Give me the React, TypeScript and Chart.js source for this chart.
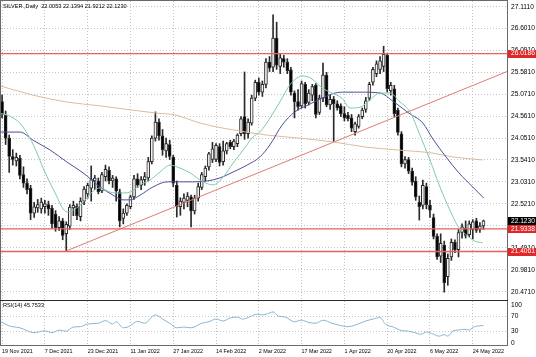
import React, { useEffect, useRef } from "react";
import { Chart, registerables } from "chart.js";

Chart.register(...registerables);

// ---- data ----
const titleText = "SILVER.,Daily  22.0053 22.1394 21.9212 22.1230";
const rsiTitle = "RSI(14) 45.7533";

const dateIdx = [0, 12, 24, 36, 48, 60, 72, 84, 96, 108, 120, 132];
const dateLabels = [
  "19 Nov 2021", "7 Dec 2021", "23 Dec 2021", "11 Jan 2022", "27 Jan 2022", "14 Feb 2022",
  "2 Mar 2022", "17 Mar 2022", "1 Apr 2022", "20 Apr 2022", "6 May 2022", "24 May 2022",
];
const priceTicks = [20.471, 20.981, 21.491, 22.011, 22.521, 23.031, 23.541, 24.051, 24.561, 25.071, 25.581, 26.091, 26.601, 27.111];
const rsiTicks = [0, 30, 70, 100];

const opens = [
  24.90, 24.58, 24.05, 23.62, 23.52, 23.58, 23.20, 23.00, 22.88, 22.30,
  22.42, 22.40, 22.45, 22.50, 22.42, 22.28, 21.96, 22.12, 21.82, 22.00,
  22.42, 22.46, 22.22, 22.58, 22.75, 22.88, 23.05, 23.05, 22.82, 23.15,
  23.30, 23.05, 23.10, 22.80, 22.18, 22.30, 22.45, 22.68, 23.10, 22.95,
  23.08, 23.12, 23.50, 24.05, 24.42, 24.10, 23.75, 23.90, 23.60, 22.95,
  22.45, 22.55, 22.60, 22.68, 22.35, 22.65, 22.90, 23.15, 23.38, 23.55,
  23.55, 23.85, 23.50, 23.75, 23.95, 23.85, 23.92, 24.15, 24.55, 24.15,
  24.40, 24.98, 25.35, 25.12, 25.30, 25.82, 25.70, 26.38, 25.72, 25.90,
  25.82, 25.64, 25.10, 24.90, 24.80, 25.30, 24.88, 25.05, 25.28, 24.65,
  24.98, 25.52, 24.82, 24.95, 24.85, 24.80, 24.62, 24.58, 24.52, 24.20,
  24.32, 24.55, 24.72, 24.98, 25.35, 25.55, 25.65, 25.72, 25.98, 25.15,
  25.20, 24.70, 24.15, 23.45, 23.55, 23.28, 23.05, 22.55, 22.48, 22.92,
  22.49, 22.20, 21.76, 21.30, 21.55, 20.82, 21.28, 21.62, 21.45, 21.85,
  21.95, 21.80, 21.92, 22.12, 21.92, 22.0053,
];
const highs = [
  25.05, 24.68, 24.12, 23.78, 23.70, 23.65, 23.38, 23.10, 22.95, 22.55,
  22.62, 22.65, 22.60, 22.58, 22.48, 22.36, 22.22, 22.18, 22.10, 22.50,
  22.58, 22.52, 22.66, 22.92, 23.00, 23.40, 23.18, 23.12, 23.25, 23.42,
  23.38, 23.18, 23.15, 22.86, 22.40, 22.52, 22.72, 23.18, 23.22, 23.15,
  23.25, 23.60, 24.10, 24.66, 24.50, 24.25, 24.05, 24.00, 23.65, 23.05,
  22.66, 22.75, 22.78, 22.72, 22.72, 23.00, 23.25, 23.40, 23.72, 23.95,
  23.92, 23.92, 23.98, 23.95, 24.00, 24.02, 24.15, 24.55, 25.59, 24.50,
  25.05, 25.40, 25.45, 25.38, 25.90, 25.95, 26.92, 26.75, 26.00, 25.98,
  25.90, 25.70, 25.15, 25.18, 25.38, 25.35, 25.18, 25.30, 25.32, 25.05,
  25.80, 25.58, 25.05, 25.02, 24.92, 24.85, 24.78, 24.65, 24.60, 24.42,
  24.60, 24.75, 25.00, 25.35, 25.70, 25.85, 25.95, 26.19, 26.02, 25.35,
  25.28, 24.75, 24.20, 23.62, 23.60, 23.35, 23.15, 22.70, 23.07, 23.00,
  22.60, 22.28, 21.82, 21.82, 21.65, 21.35, 21.70, 21.68, 21.92, 22.05,
  22.12, 22.12, 22.15, 22.18, 22.08, 22.1394,
];
const lows = [
  24.52, 23.90, 23.25, 23.42, 23.40, 23.10, 22.90, 22.75, 22.15, 22.20,
  22.32, 22.30, 22.30, 22.25, 21.95, 21.88, 21.90, 21.68, 21.42, 21.92,
  22.24, 22.15, 22.12, 22.50, 22.65, 22.58, 22.85, 22.75, 22.78, 23.05,
  22.98, 22.90, 22.58, 21.98, 22.05, 22.25, 22.40, 22.62, 22.90, 22.85,
  22.95, 23.05, 23.45, 23.98, 24.00, 23.65, 23.60, 23.55, 22.92, 22.21,
  22.25, 22.40, 22.45, 21.98, 22.28, 22.58, 22.85, 23.05, 23.30, 23.48,
  23.50, 23.40, 23.42, 23.68, 23.80, 23.78, 23.85, 24.10, 24.02, 24.05,
  24.35, 24.92, 25.05, 25.02, 25.22, 25.60, 25.60, 25.65, 25.55, 25.70,
  25.55, 25.05, 24.52, 24.70, 24.75, 24.75, 24.82, 24.92, 24.52, 24.60,
  24.90, 24.78, 24.72, 23.96, 24.70, 24.55, 24.45, 24.45, 24.20, 24.12,
  24.28, 24.50, 24.65, 24.92, 25.28, 25.48, 25.55, 25.60, 25.12, 25.05,
  24.55, 24.12, 23.38, 23.35, 23.22, 22.95, 22.60, 22.14, 22.40, 22.40,
  22.20, 21.70, 21.22, 21.15, 20.46, 20.62, 21.20, 21.38, 21.28, 21.72,
  21.72, 21.75, 21.70, 21.85, 21.85, 21.9212,
];
const closes = [
  24.60, 24.05, 23.62, 23.55, 23.60, 23.18, 23.00, 22.85, 22.30, 22.45,
  22.50, 22.56, 22.52, 22.40, 22.05, 21.96, 22.12, 21.78, 22.04, 22.44,
  22.48, 22.24, 22.58, 22.86, 22.95, 23.08, 23.12, 22.80, 23.20, 23.32,
  23.05, 23.12, 22.82, 22.12, 22.30, 22.48, 22.68, 23.10, 22.95, 23.08,
  23.15, 23.50, 24.05, 24.42, 24.10, 23.78, 23.92, 23.62, 23.00, 22.45,
  22.58, 22.65, 22.70, 22.35, 22.65, 22.92, 23.20, 23.35, 23.68, 23.80,
  23.88, 23.48, 23.75, 23.92, 23.85, 23.98, 24.12, 24.50, 24.15, 24.42,
  24.98, 25.35, 25.12, 25.30, 25.82, 25.68, 26.38, 25.75, 25.92, 25.82,
  25.62, 25.12, 24.90, 24.78, 25.32, 24.85, 25.10, 25.25, 24.60, 24.98,
  25.52, 24.82, 24.95, 24.85, 24.75, 24.62, 24.52, 24.50, 24.28, 24.38,
  24.55, 24.70, 24.92, 25.30, 25.65, 25.78, 25.85, 26.00, 25.20, 25.28,
  24.62, 24.18, 23.45, 23.55, 23.28, 23.02, 22.68, 22.45, 22.95, 22.50,
  22.37, 21.76, 21.28, 21.60, 20.68, 21.25, 21.62, 21.45, 21.85, 21.98,
  21.78, 22.05, 22.10, 21.90, 22.00, 22.1230,
];

const fastIdx = [
  -0.3, 1.4, 3.1, 5.0, 7.8, 9.8, 11.5, 13.5, 15.4, 16.8,
  18.2, 19.9, 21.9, 23.8, 25.2, 27.5, 30.3, 33.1, 35.9, 38.7,
  41.5, 44.3, 47.1, 49.9, 52.7, 56.4, 59.2, 62.0, 64.8, 67.6,
  70.4, 72.3, 75.7, 78.5, 80.7, 82.7, 84.1, 86.9, 89.7, 92.5,
  95.3, 97.6, 100.4, 103.2, 106.0, 108.8, 111.6, 114.4, 117.2, 120.0,
  122.8, 125.6, 127.8, 129.8, 132.6, 134.8,
];
const fastVal = [
  24.62, 24.59, 24.52, 24.40, 24.05, 23.70, 23.35, 23.00, 22.68, 22.44,
  22.33, 22.37, 22.49, 22.65, 22.79, 22.89, 22.79, 22.77, 22.79, 22.96,
  23.07, 23.26, 23.42, 23.35, 23.24, 23.03, 22.96, 23.14, 23.47, 23.77,
  24.08, 24.19, 24.59, 24.98, 25.29, 25.45, 25.50, 25.43, 25.22, 25.10,
  24.98, 24.75, 24.77, 24.94, 25.10, 25.10, 24.89, 24.66, 24.12, 23.54,
  22.91, 22.37, 22.00, 21.82, 21.65, 21.61,
];
const slowIdx = [
  -0.3, 5.05, 8.7, 13.5, 18.2, 22.7, 27.5, 31.1, 33.9, 35.9,
  38.7, 42.3, 46.3, 49.9, 53.5, 57.5, 61.1, 64.8, 68.7, 72.3,
  75.1, 78.5, 82.1, 85.8, 89.7, 93.4, 96.2, 100.4, 106.0, 109.6,
  114.1, 118.0, 120.8, 124.5, 128.1, 132.0, 135.1,
];
const slowVal = [
  24.19, 24.19, 24.00, 23.77, 23.49, 23.24, 22.91, 22.72, 22.61, 22.61,
  22.72, 22.91, 23.03, 23.03, 23.03, 23.05, 23.12, 23.26, 23.42, 23.61,
  23.89, 24.35, 24.66, 24.82, 24.98, 25.10, 25.12, 25.12, 25.10, 24.91,
  24.63, 24.40, 24.03, 23.61, 23.24, 22.91, 22.65,
];
const longIdx = [-0.3, 8.7, 18.2, 27.5, 36.7, 43.5, 48.5, 55.5, 64.8, 74.3, 83.3, 92.8, 102.0, 111.3, 120.8, 126.4, 134.8];
const longVal = [25.26, 25.05, 24.89, 24.80, 24.70, 24.63, 24.59, 24.40, 24.24, 24.12, 24.05, 23.96, 23.84, 23.77, 23.70, 23.61, 23.54];

const rsiIdx = [
  -0.3, 2, 5, 9, 12, 14, 16, 18, 20, 22, 24, 27, 29, 31, 32, 34, 35.5, 38, 40, 43,
  45, 47, 49, 51, 53, 56, 58, 60, 62, 64, 66, 67.5, 69, 71.5, 73, 75, 76, 77.5, 79.5, 82,
  84, 86, 88, 90, 92.5, 94.5, 97, 99, 102, 104, 106, 107.5, 110, 111.5, 114, 115.5, 117.5, 119, 121, 122.5,
  124, 125, 126.5, 128, 129.5, 131, 132, 133.7, 135,
];
const rsiVal = [
  56, 45, 40, 27, 32, 27, 34, 31, 42, 43, 50, 52, 59, 50, 56, 40, 43, 57, 52, 74,
  63, 52, 40, 42, 40, 52, 56, 63, 58, 66, 68, 63, 67, 76, 74, 79, 82, 71, 68, 56,
  60, 54, 52, 60, 52, 47, 43, 47, 58, 63, 67, 50, 41, 34, 31, 28, 23, 29, 23, 18,
  22, 18, 32, 34, 36, 34, 41, 45, 45.75,
];

const levelValues = [26.0186, 21.9338, 21.4061];
const lastPrice = 22.123;
const trendIdx = [18, 141.6];
const trendVal = [21.42, 25.6];

const X_MIN = -0.3;
const X_MAX = 141.6;

const FONT = "'Liberation Sans', Arial, sans-serif";

const noPad = (s: any) => {
  s.paddingTop = 0;
  s.paddingBottom = 0;
  s.paddingLeft = 0;
  s.paddingRight = 0;
};

const decor = {
  id: "decor",
  afterDraw(chart: any) {
    const { ctx, chartArea, scales } = chart;
    const y = scales.y;
    const r = scales.rsi;
    const L = chartArea.left;
    const R = chartArea.right;
    ctx.save();
    // panel borders
    ctx.strokeStyle = "#6a6a6a";
    ctx.lineWidth = 1;
    ctx.strokeRect(L - 0.5, Math.round(y.top) - 0.5, R - L + 1, Math.round(y.bottom) - Math.round(y.top) + 1);
    ctx.strokeRect(L - 0.5, Math.round(r.top) + 0.5, R - L + 1, Math.round(r.bottom) - Math.round(r.top) - 1);
    ctx.strokeStyle = "#2a2a2a";
    ctx.beginPath();
    ctx.moveTo(L - 1, Math.round(y.bottom) + 0.5);
    ctx.lineTo(R + 1, Math.round(y.bottom) + 0.5);
    ctx.stroke();

    // price labels on the axis
    ctx.font = `6.6px ${FONT}`;
    ctx.textBaseline = "middle";
    ctx.textAlign = "left";
    const tag = (v: number, bg: string) => {
      const py = y.getPixelForValue(v);
      ctx.fillStyle = bg;
      ctx.fillRect(R + 1, Math.round(py) - 4, 29, 8);
      ctx.fillStyle = "#fff";
      ctx.fillText(v.toFixed(4), R + 4, py);
    };
    tag(lastPrice, "#000");
    levelValues.forEach((v) => tag(v, "#e02828"));

    // panel captions
    ctx.fillStyle = "#000";
    ctx.font = `5.6px ${FONT}`;
    ctx.fillText(titleText, L + 2, y.top + 5);
    ctx.fillText(rsiTitle, L + 2, r.top + 5);
    ctx.restore();
  },
};

export default function App() {
  const ref = useRef<HTMLCanvasElement | null>(null);

  useEffect(() => {
    if (!ref.current) return;
    const wicks = opens.map((_, i) => ({ x: i, y: [lows[i], highs[i]] }));
    const bodies = opens.map((o, i) => ({ x: i, y: [o, closes[i]] }));
    const up = (i: number) => closes[i] >= opens[i];
    const pts = (xs: number[], ys: number[]) => xs.map((x, i) => ({ x, y: ys[i] }));
    const lineDs = (label: string, data: any[], color: string, axis = "y", smooth = true, width = 1) => ({
      type: "line" as const,
      label,
      data,
      yAxisID: axis,
      borderColor: color,
      backgroundColor: color,
      borderWidth: width,
      pointRadius: 0,
      fill: false,
      cubicInterpolationMode: smooth ? ("monotone" as const) : ("default" as const),
      tension: 0,
      order: 1,
    });

    const chart = new Chart(ref.current, {
      type: "line",
      data: {
        datasets: [
          lineDs("MA fast", pts(fastIdx, fastVal), "#82c9a8"),
          lineDs("MA mid", pts(slowIdx, slowVal), "#4b4f98"),
          lineDs("MA long", pts(longIdx, longVal), "#dcbc9c"),
          ...levelValues.map((v) => lineDs("level " + v, [{ x: X_MIN, y: v }, { x: X_MAX, y: v }], "#e86060", "y", false, 1.4)),
          lineDs("trend", pts(trendIdx, trendVal), "#de7c74", "y", false),
          lineDs("RSI", pts(rsiIdx, rsiVal), "#86b6d6", "rsi"),
          {
            type: "bar" as const,
            label: "wick",
            data: wicks as any,
            yAxisID: "y",
            backgroundColor: "#2a2a2a",
            barThickness: 1,
            grouped: false,
            order: 10,
          },
          {
            type: "bar" as const,
            label: "body",
            data: bodies as any,
            yAxisID: "y",
            backgroundColor: (c: any) => (up(c.dataIndex) ? "#f2f2f2" : "#000"),
            borderColor: "#2a2a2a",
            borderWidth: 1,
            borderSkipped: false,
            barThickness: 3,
            minBarLength: 1,
            grouped: false,
            order: 9,
          },
        ],
      },
      options: {
        animation: false,
        responsive: false,
        maintainAspectRatio: false,
        events: [],
        layout: { padding: { left: 1, top: 1, right: 0, bottom: 0 } },
        plugins: { legend: { display: false }, tooltip: { enabled: false }, title: { display: false } },
        scales: {
          x: {
            type: "linear",
            min: X_MIN,
            max: X_MAX,
            offset: false,
            position: "bottom",
            afterBuildTicks: (s: any) => {
              s.ticks = dateIdx.map((v) => ({ value: v }));
            },
            afterFit: (s: any) => {
              s.height = 11;
              noPad(s);
            },
            ticks: {
              autoSkip: false,
              maxRotation: 0,
              align: "start",
              padding: 2,
              color: "#000",
              font: { family: FONT, size: 5.4 },
              callback: (_v: any, i: number) => dateLabels[i],
            },
            grid: { color: "#c4c4c4", drawTicks: false, offset: false },
            border: { display: false, dash: [1, 2] },
          },
          y: {
            type: "linear",
            position: "right",
            stack: "panes",
            stackWeight: 299,
            min: 20.277,
            max: 27.244,
            afterBuildTicks: (s: any) => {
              s.ticks = priceTicks.map((v) => ({ value: v }));
            },
            afterFit: (s: any) => {
              s.width = 29;
              noPad(s);
            },
            ticks: {
              autoSkip: false,
              padding: 4,
              color: "#000",
              font: { family: FONT, size: 6.6 },
              callback: (v: any) => Number(v).toFixed(4),
            },
            grid: { color: "#c4c4c4", drawTicks: false },
            border: { display: false, dash: [1, 2] },
          },
          rsi: {
            type: "linear",
            position: "right",
            stack: "panes",
            stackWeight: 46,
            min: -7.9,
            max: 113.2,
            afterBuildTicks: (s: any) => {
              s.ticks = rsiTicks.map((v) => ({ value: v }));
            },
            afterFit: (s: any) => {
              s.width = 29;
              noPad(s);
            },
            ticks: {
              autoSkip: false,
              padding: 4,
              color: "#000",
              font: { family: FONT, size: 6.6 },
              callback: (v: any) => String(v),
            },
            grid: {
              drawTicks: false,
              color: (c: any) => (c.tick && (c.tick.value === 30 || c.tick.value === 70) ? "#c4c4c4" : "rgba(0,0,0,0)"),
            },
            border: { display: false, dash: [1, 2] },
          },
        },
      } as any,
      plugins: [decor],
    });
    return () => chart.destroy();
  }, []);

  return (
    <div style={{ position: "fixed", left: 0, top: 0, width: 536, height: 357, background: "#fff" }}>
      <canvas ref={ref} width={536} height={357} style={{ display: "block", width: 536, height: 357 }} />
    </div>
  );
}
